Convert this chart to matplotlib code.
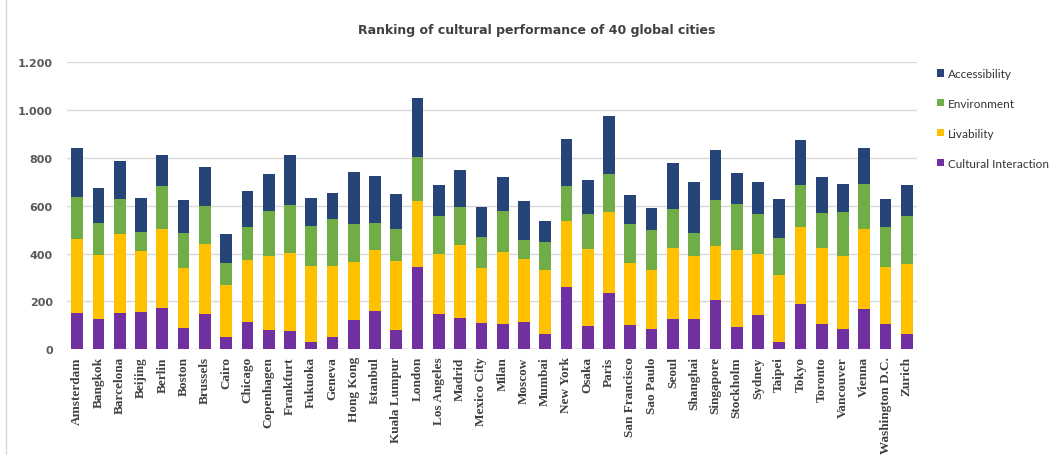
"""Ranking of cultural performance of 40 global cities - stacked columns."""

import numpy as np
import matplotlib.pyplot as plt
from matplotlib.patches import Rectangle
from matplotlib.ticker import FuncFormatter

cities = [
    "Amsterdam", "Bangkok", "Barcelona", "Beijing", "Berlin", "Boston",
    "Brussels", "Cairo", "Chicago", "Copenhagen", "Frankfurt", "Fukuoka",
    "Geneva", "Hong Kong", "Istanbul", "Kuala Lumpur", "London",
    "Los Angeles", "Madrid", "Mexico City", "Milan", "Moscow", "Mumbai",
    "New York", "Osaka", "Paris", "San Francisco", "Sao Paulo", "Seoul",
    "Shanghai", "Singapore", "Stockholm", "Sydney", "Taipei", "Tokyo",
    "Toronto", "Vancouver", "Vienna", "Washington D.C.", "Zurich",
]

cultural_interaction = [
    150, 125, 150, 156, 173, 89, 146, 49, 114, 79, 75, 31, 49, 121, 160,
    79, 344, 146, 129, 111, 104, 115, 65, 262, 97, 237, 102, 84, 128, 125,
    205, 95, 145, 32, 188, 104, 86, 167, 104, 63,
]
livability = [
    313, 268, 332, 255, 332, 249, 296, 218, 259, 311, 327, 316, 298, 244,
    257, 290, 275, 251, 306, 230, 302, 264, 266, 274, 321, 338, 258, 246,
    297, 265, 227, 319, 255, 280, 324, 320, 306, 334, 241, 295,
]
environment = [
    174, 133, 148, 81, 177, 149, 156, 95, 138, 188, 203, 168, 196, 160,
    111, 136, 184, 160, 159, 129, 171, 77, 118, 146, 146, 156, 162, 168,
    160, 97, 194, 192, 164, 155, 174, 146, 181, 192, 167, 199,
]
accessibility = [
    205, 149, 156, 142, 132, 139, 163, 121, 150, 153, 209, 118, 109, 217,
    195, 145, 248, 132, 157, 124, 142, 165, 89, 199, 143, 243, 122, 94,
    195, 211, 209, 130, 135, 161, 191, 149, 120, 149, 116, 132,
]

series = [
    ("Cultural Interaction", cultural_interaction, "#7030A0"),
    ("Livability", livability, "#FFC000"),
    ("Environment", environment, "#70AD47"),
    ("Accessibility", accessibility, "#264478"),
]

fig = plt.figure(figsize=(10.57, 4.56), dpi=100)
ax = fig.add_axes([0.063, 0.232, 0.805, 0.629])

x = np.arange(len(cities))
bottom = np.zeros(len(cities))
handles = []
for name, vals, color in series:
    vals = np.array(vals, dtype=float)
    b = ax.bar(x, vals, 0.55, bottom=bottom, color=color, label=name,
               edgecolor="none", zorder=3)
    handles.append(b)
    bottom += vals

ax.set_xlim(-0.5, len(cities) - 0.5)
ax.set_ylim(0, 1200)
ax.set_yticks(np.arange(0, 1201, 200))
ax.yaxis.set_major_formatter(
    FuncFormatter(lambda v, _: f"{int(v):,}".replace(",", ".")))
ax.grid(axis="y", color="#D9D9D9", lw=1, zorder=0)
ax.grid(axis="x", visible=False)
for s in ax.spines.values():
    s.set_visible(False)
ax.tick_params(length=0)
ax.tick_params(axis="y", pad=10, labelsize=8, labelcolor="#595959")
for lab in ax.get_yticklabels():
    lab.set_fontweight("bold")

ax.set_xticks(x)
ax.set_xticklabels(cities, rotation=90, family="Liberation Serif",
                   fontweight="bold", fontsize=9.5, color="#404040")
ax.tick_params(axis="x", pad=5)

fig.text(0.508, 0.934, "Ranking of cultural performance of 40 global cities",
         ha="center", va="center", fontsize=9, fontweight="bold",
         color="#404040")

leg = fig.legend(handles[::-1], [s[0] for s in series][::-1],
                 loc="upper left", bbox_to_anchor=(0.876, 0.872),
                 frameon=False, prop={"family": "Lato", "size": 8.5},
                 handlelength=0.6, handleheight=0.6, handletextpad=0.4,
                 labelspacing=1.6)
for t in leg.get_texts():
    t.set_color("#333333")

# light frame around the chart area
fig.patches.append(Rectangle((0.006, -0.01), 0.999, 1.02,
                             transform=fig.transFigure, fill=False,
                             edgecolor="#D9D9D9", lw=1))

fig.savefig("out.png", dpi=100)
